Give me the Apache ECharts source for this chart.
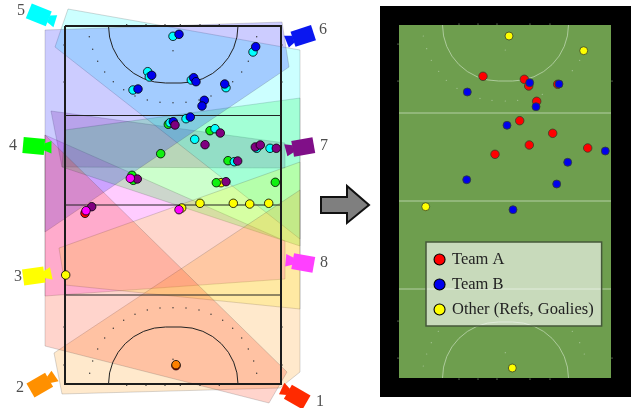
<!DOCTYPE html>
<html>
<head>
<meta charset="utf-8">
<style>html,body{margin:0;padding:0;background:#fff}#c{width:631px;height:408px}</style>
<script src="https://cdn.jsdelivr.net/npm/echarts@6/dist/echarts.min.js"></script>
</head>
<body>
<div id="c"></div>
<script>
const viewPolygons = [
  {color:'#ff00ff', pts:[[45,135],[285,241],[285,279],[45,296]]},
  {color:'#800080', pts:[[51,111],[62,167],[285,168],[285,143]]},
  {color:'#00ff00', pts:[[65,130],[62,167],[300,246],[300,98]]},
  {color:'#00ffff', pts:[[68,9],[300,50],[300,239],[55,47]]},
  {color:'#0000ff', pts:[[45,30],[282,22],[289,67],[45,232]]},
  {color:'#ffff00', pts:[[59,248],[65,285],[300,309],[300,162]]},
  {color:'#ff9000', pts:[[54,353],[62,394],[280,388],[300,372],[300,190]]},
  {color:'#ff2a00', pts:[[45,135],[45,346],[269,403],[287,372]]}
];
const cameras = [
  {label:'1', color:'#ff2a00', pos:[297,397], dir:210, text:[320,402]},
  {label:'2', color:'#ff9000', pos:[40,385],  dir:-30, text:[20,388]},
  {label:'3', color:'#ffff00', pos:[34,276],  dir:-8,  text:[18,277]},
  {label:'4', color:'#00ff00', pos:[34,146],  dir:5,   text:[13,146]},
  {label:'5', color:'#00ffff', pos:[39,15],   dir:22,  text:[21,11]},
  {label:'6', color:'#0a17f0', pos:[303,36],  dir:162, text:[323,30]},
  {label:'7', color:'#800f88', pos:[303,147], dir:170, text:[324,146]},
  {label:'8', color:'#ff40ff', pos:[303,263], dir:190, text:[324,263]}
];
const leftFieldLines = [
  [[65,26],[281,26],[281,384],[65,384],[65,26]]
];
const leftMidLines = [
  [[65,115.5],[281,115.5]],
  [[65,205],[281,205]],
  [[65,295],[281,295]]
];
const leftArcs = [
  {centers:[[165.5,26],[181,26]], r:57, side:'down'},
  {centers:[[165.5,384],[181,384]], r:57, side:'up'}
];
const rightField = [[399,25],[611,25],[611,378],[399,378]];
const blackFrame = [[380,6],[631,6],[631,397],[380,397]];
const rightMidLines = [
  [[399,113],[611,113]],
  [[399,201],[611,201]],
  [[399,289],[611,289]]
];
const rightArcs = [
  {centers:[[498.5,25],[512.5,25]], r:56, side:'down'},
  {centers:[[498.5,378],[512.5,378]], r:56, side:'up'}
];
const arrowShape = [[321,197],[347,197],[347,186],[369,205],[347,223],[347,213],[321,213]];

const leftDots = [
  [89.3,36.7],[92.7,49.3],[97.7,61.3],[104.7,72],[113.3,81.7],[123.7,89.7],[135,96],[147.3,100],[160,102.3],[173,102.7],[186,102.3],[199,100],[211,96],[222.7,89.7],[232.7,81.7],[241.7,72],[248.3,61.3],[253.7,49.3],[256.7,36.7],[173,50.7],
  [89.7,373.3],[92.7,361],[97.7,349],[104.7,338],[113.3,328.3],[123.7,320.3],[135,314.3],[147.3,310],[160,308],[173,307.7],[186,308],[199,310],[211,314.3],[222.7,320.3],[232.7,328.3],[241.7,338],[248.3,349],[253.7,361],[256.7,373.3],[173,359.3],
  [126.7,24.7],[146,24.7],[165,24.7],[180.3,24.7],[200,24.7],[219.3,24.7],
  [126.7,385.3],[146,385.3],[165,385.3],[180.3,385.3],[200,385.3],[219.3,385.3],
  [64,45],[64,82],[282,45],[282,82],[64,327],[64,365],[282,327],[282,365]
];
const rightDots = [
  [423.3,36],[426.7,48.7],[431.3,60.3],[438.7,71.3],[446.3,80.3],[457,88.3],[480,98.3],[492,100.3],[505.3,101],[517.7,100.3],[542.3,94.3],[572.3,70.7],[579.7,60.3],[505.3,50],
  [438.3,331.3],[431.3,342.7],[426.7,354],[423.3,366],[579.7,342.7],[584.3,354],[572.3,331.3],[505.3,352.7],
  [398,44],[398,81],[612,81],[398,321],[398,358],[612,358],[459,24],[478,24],[497,24],[530,24],[550,24],[459,379],[478,379],[497,379],[530,379],[550,379]
];

const camRed = [[85,213.3],[176,365.7]];
const camOrange = [[176,364.7]];
const camYellow = [[221,182.7],[200,203.3],[233.3,203.3],[249.7,204],[268.7,203.3],[181.7,208],[65.7,275]];
const camGreen = [[168.3,124.3],[210,130.7],[160.7,153.7],[228,160.7],[132,175.3],[133.3,180.3],[216.3,182.7],[275.3,182.3]];
const camCyan = [[173,36.3],[253,52],[147.7,71.7],[149.3,77],[191.3,80],[133,90],[226,87.7],[186,118.7],[170,122.7],[215,128.7],[194.7,139.3],[256.7,148.3],[270,148.3],[234.3,161.7]];
const camBlue = [[179,34.3],[255.7,46.7],[151.7,75.3],[193.7,77.7],[196,81.7],[138,89],[224.7,84],[204.3,100.3],[202,106],[190.3,117],[173.3,121.7]];
const camPurple = [[175,125],[220.3,133],[205,144.7],[255.3,147],[260.3,145],[276.3,148.3],[237.7,161],[137.3,179],[226,181.7],[91.7,206.7]];
const camMagenta = [[130.3,178.3],[86,210.7],[179,209.7]];

const teamA = [[483,76.3],[524.3,79.3],[528.7,86],[536.7,101.3],[519.7,120.7],[552.7,133.3],[529.3,145],[495,154.3],[587.7,148],[557.7,84.3]];
const teamB = [[467.3,92],[529.7,82.7],[559,84],[536,106.7],[507,125.3],[605.3,151],[567.7,162.3],[466.7,179.7],[556.7,184],[513,209.7]];
const otherPeople = [[509,36],[583.7,50.7],[425.7,206.7],[512.3,368]];

const legendNames = ['Team A','Team B','Other (Refs, Goalies)'];

function polySeries(list, z, style) {
  return {
    type:'custom', coordinateSystem:'cartesian2d', silent:true, z:z, clip:false,
    data:list.map((_,i)=>[i]), encode:{x:0,y:0},
    renderItem:(p,api)=>{
      const it=list[p.dataIndex];
      const pts=(it.pts||it).map(q=>api.coord(q));
      return {type:'polygon', shape:{points:pts}, style:Object.assign({}, style, it.color?{fill:it.color}:{})};
    }
  };
}
function lineSeries(list, z, style) {
  return {
    type:'custom', coordinateSystem:'cartesian2d', silent:true, z:z, clip:false,
    data:list.map((_,i)=>[i]), encode:{x:0,y:0},
    renderItem:(p,api)=>({type:'polyline', shape:{points:list[p.dataIndex].map(q=>api.coord(q))}, style:Object.assign({fill:null}, style)})
  };
}
function arcSeries(list, z, style) {
  return {
    type:'custom', coordinateSystem:'cartesian2d', silent:true, z:z, clip:false,
    data:list.map((_,i)=>[i]), encode:{x:0,y:0},
    renderItem:(p,api)=>{
      const a=list[p.dataIndex], c0=api.coord(a.centers[0]), c1=api.coord(a.centers[1]);
      const r=api.size([a.r,0])[0], sty=Object.assign({fill:null}, style), down=a.side==='down';
      const off=down?r:-r;
      return {type:'group', children:[
        {type:'arc', shape:{cx:c0[0],cy:c0[1],r:r,startAngle:down?Math.PI/2:Math.PI,endAngle:down?Math.PI:Math.PI*1.5,clockwise:true}, style:sty},
        {type:'arc', shape:{cx:c1[0],cy:c1[1],r:r,startAngle:down?0:Math.PI*1.5,endAngle:down?Math.PI/2:Math.PI*2,clockwise:true}, style:sty},
        {type:'line', shape:{x1:c0[0],y1:c0[1]+off,x2:c1[0],y2:c1[1]+off}, style:sty}
      ]};
    }
  };
}
function dotSeries(list, z, color, size) {
  return {type:'scatter', silent:true, z:z, symbol:'circle', symbolSize:size, data:list, itemStyle:{color:color, opacity:1}};
}
function playerSeries(name, list, color, z, size, border, bw) {
  return {type:'scatter', name:name, z:z, symbol:'circle', symbolSize:size, data:list, silent:true,
    itemStyle:{color:color, borderColor:border, borderWidth:bw, opacity:1}};
}
const cameraSeries = {
  type:'custom', coordinateSystem:'cartesian2d', silent:true, z:30, clip:false,
  data:cameras.map(c=>c.pos), encode:{x:0,y:1},
  renderItem:(p,api)=>{
    const cam=cameras[p.dataIndex], c=api.coord(cam.pos), t=cam.dir*Math.PI/180;
    const rot=q=>[c[0]+q[0]*Math.cos(t)-q[1]*Math.sin(t), c[1]+q[0]*Math.sin(t)+q[1]*Math.cos(t)];
    const body=[[-11,-8],[10.5,-8],[10.5,8],[-11,8]].map(rot);
    const lens=[[10,-3.5],[17,-6.5],[18,6],[10,3.5]].map(rot);
    return {type:'group', children:[
      {type:'polygon', shape:{points:body}, style:{fill:cam.color}},
      {type:'polygon', shape:{points:lens}, style:{fill:cam.color}}
    ]};
  }
};
const labelSeries = {
  type:'scatter', silent:true, z:31, symbolSize:0,
  data:cameras.map(c=>({value:c.text, label:{show:true, formatter:c.label}})),
  label:{position:'inside', color:'#222', fontFamily:'Liberation Serif', fontSize:16}
};

const option = {
  animation:false,
  backgroundColor:'#fff',
  grid:{left:0,right:0,top:0,bottom:0},
  xAxis:{type:'value',min:0,max:631,show:false},
  yAxis:{type:'value',min:0,max:408,inverse:true,show:false},
  legend:{
    data:legendNames, orient:'vertical', left:426, top:242,
    padding:[9,8,8,7.5], itemGap:8, itemWidth:11, itemHeight:11, icon:'circle', selectedMode:false,
    backgroundColor:'rgba(255,255,255,0.62)', borderColor:'#45583a', borderWidth:1.5,
    textStyle:{fontFamily:'Liberation Serif', fontSize:16.5, color:'#222', padding:[0,0,0,2]},
    itemStyle:{borderColor:'#000', borderWidth:1.1},
    z:20
  },
  series:[
    polySeries(viewPolygons, 1, {fillOpacity:0.2, stroke:'#444', strokeOpacity:0.35, lineWidth:0.6}),
    lineSeries(leftFieldLines, 5, {stroke:'#1c1c1c', lineWidth:2}),
    lineSeries(leftMidLines, 5, {stroke:'#222', lineWidth:1.1}),
    arcSeries(leftArcs, 5, {stroke:'#222', lineWidth:1}),
    dotSeries(leftDots, 5, '#333', 1.4),
    playerSeries('Camera 1', camRed, '#ff0000', 10, 8.5, '#000', 0.8),
    playerSeries('Camera 2', camOrange, '#ff8000', 11, 8.5, '#000', 0.8),
    playerSeries('Camera 3', camYellow, '#ffff00', 12, 8.5, '#000', 0.8),
    playerSeries('Camera 4', camGreen, '#10f010', 13, 8.5, '#000', 0.8),
    playerSeries('Camera 5', camCyan, '#00ffff', 14, 8.5, '#000', 0.8),
    playerSeries('Camera 6', camBlue, '#0000ee', 15, 8.5, '#000', 0.8),
    playerSeries('Camera 7', camPurple, '#800080', 16, 8.5, '#000', 0.8),
    playerSeries('Camera 8', camMagenta, '#ff00ff', 17, 8.5, '#000', 0.8),
    cameraSeries,
    labelSeries,
    polySeries([arrowShape], 6, {fill:'#7f7f7f', stroke:'#111', lineWidth:2}),
    polySeries([blackFrame], 2, {fill:'#000'}),
    polySeries([rightField], 3, {fill:'#6e9e4e'}),
    lineSeries(rightMidLines, 4, {stroke:'#b4cfa4', lineWidth:1}),
    arcSeries(rightArcs, 4, {stroke:'#bcd5ae', lineWidth:0.8}),
    dotSeries(rightDots, 4, '#a9c79a', 1.2),
    playerSeries('Team A', teamA, '#ff0000', 8, 8.5, '#33402a', 0.8),
    playerSeries('Team B', teamB, '#0000ee', 9, 8, '#33402a', 0.8),
    playerSeries('Other (Refs, Goalies)', otherPeople, '#ffff00', 10, 8, '#33402a', 0.8)
  ]
};
const chart = echarts.init(document.getElementById('c'), null, {renderer:'canvas'});
chart.setOption(option);
</script>
</body>
</html>
